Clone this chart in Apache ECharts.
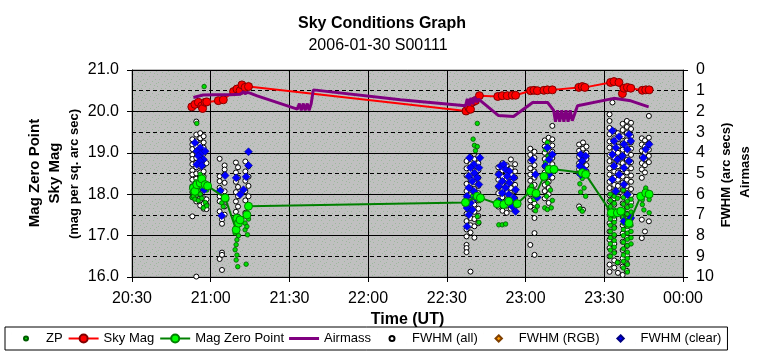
<!DOCTYPE html>
<html><head><meta charset="utf-8">
<script src="https://cdn.jsdelivr.net/npm/echarts@6/dist/echarts.min.js"></script>
<style>html,body{margin:0;padding:0;background:#fff}#c{width:764px;height:357px}</style>
</head><body><div id="c"></div>
<script>
// ---------------- DATA (time = minutes after 00:00 UT of the night) ----------------
const titleText = 'Sky Conditions Graph';
const subtitleText = '2006-01-30 S00111';
const xTimeRange = [1230, 1440];           // 20:30 .. 00:00
const leftRange = [16, 21];                 // mag
const rightRange = [0, 10];                 // FWHM / airmass

const skyMag = [[1252.8,20.11],[1254.0,20.17],[1255.3,20.22],[1256.6,20.13],[1256.9,20.07],[1257.9,20.22],[1258.5,20.23],
 [1262.9,20.26],[1264.8,20.28],[1268.7,20.48],[1270.0,20.54],[1271.2,20.50],[1271.9,20.64],[1273.1,20.58],[1274.4,20.60],
 [1357.3,20.01],[1358.4,20.09],[1359.0,20.05],[1359.7,20.22],[1360.9,20.26],[1362.4,20.38],
 [1369.4,20.36],[1371.1,20.38],[1373.0,20.38],[1374.9,20.39],[1376.2,20.39],
 [1381.9,20.50],[1383.2,20.51],[1384.5,20.50],[1387.0,20.51],[1388.3,20.52],[1390.2,20.52],
 [1400.3,20.58],[1401.6,20.60],[1402.6,20.58],
 [1412.4,20.70],[1413.7,20.72],[1415.6,20.70],[1416.9,20.43],[1417.5,20.56],[1418.8,20.58],[1420.1,20.56],
 [1424.5,20.51],[1425.8,20.52],[1427.1,20.52]];

const magZeroPoint = [[1253.4,18.15],[1254.0,18.07],[1254.7,18.23],[1256.0,18.27],[1256.6,18.37],[1257.9,18.23],[1258.8,18.20],
 [1265.5,17.91],[1269.7,17.14],[1270.0,17.42],[1270.6,17.30],[1271.2,17.38],[1273.8,17.50],[1274.4,17.71],
 [1357.1,17.80],[1361.6,17.95],[1362.8,17.91],
 [1369.2,17.77],[1371.7,17.75],[1373.6,17.83],[1376.8,17.77],
 [1381.9,18.07],[1384.0,18.02],[1387.0,18.43],[1388.9,18.60],[1390.8,18.60],
 [1401.6,18.52],[1402.9,18.48],
 [1412.7,17.55],[1415.0,17.55],[1416.3,17.59],[1419.4,17.30],
 [1423.9,17.95],[1425.8,18.03],[1427.1,18.00]];

const airmass = [[1253.4,1.33],[1257.1,1.21],[1261.7,1.20],[1267.4,1.20],[1271.2,1.17],[1272.5,1.05],[1273.1,1.15],
 [1274.0,1.08],[1275.0,1.12],[1277.7,1.25],[1293.0,1.89],[1293.8,1.62],[1294.5,1.95],[1295.3,1.62],[1296.0,1.95],
 [1296.8,1.62],[1297.5,1.95],[1298.3,1.62],[1299.1,0.96],[1332.3,1.44],[1357.1,1.73],[1357.8,1.40],[1358.5,1.72],
 [1359.2,1.35],[1359.9,1.65],[1360.6,1.30],[1361.3,1.55],[1362.1,1.41],[1369.7,2.20],[1375.4,2.25],[1382.7,1.57],
 [1388.4,1.57],[1390.7,1.95],[1391.4,2.50],[1392.2,1.95],[1393.0,2.50],[1393.8,1.95],[1394.6,2.50],[1395.4,1.95],
 [1396.2,2.50],[1397.0,1.95],[1397.8,2.45],[1399.8,1.73],[1413.6,1.37],[1420.1,1.49],[1426.9,1.78]];

// columns of points: [time, [values at that time]]
const zpColumns = [
 [1253.0,[18.05,17.92]],[1253.4,[18.2,17.95]],[1254.0,[17.88,18.12]],[1254.4,[18.3]],[1254.7,[19.71,18.0]],
 [1255.3,[18.1,17.85]],[1256.0,[18.48,18.0]],[1256.6,[18.15,17.9]],[1257.2,[18.3,17.67]],[1257.5,[20.60]],
 [1257.9,[18.2,17.8]],[1258.5,[18.1,17.72]],
 [1264.2,[17.79]],[1264.8,[17.7]],[1265.2,[17.95]],[1266.1,[17.87]],
 [1269.3,[17.06,16.66]],[1269.7,[17.38,16.78,16.41]],[1270.0,[17.22,16.9,16.53]],[1270.3,[16.25]],[1270.6,[17.0]],
 [1273.1,[17.30,17.14]],[1273.5,[16.31]],[1273.8,[17.22]],[1274.0,[17.02]],[1274.4,[17.4]],
 [1358.4,[17.6]],[1359.7,[17.95]],[1360.0,[19.33]],[1360.5,[19.18]],[1360.9,[19.05,18.0]],
 [1361.6,[19.71,19.15,17.46]],[1362.2,[17.32]],[1362.5,[17.85]],
 [1369.8,[17.26]],[1371.1,[17.26]],[1372.4,[17.28]],[1373.0,[17.79]],[1374.9,[17.83]],[1375.5,[17.9]],[1376.2,[17.71]],
 [1382.3,[18.2]],[1382.6,[18.07]],[1383.2,[17.87]],[1383.8,[17.6]],[1384.5,[17.71]],
 [1387.0,[18.43]],[1387.3,[17.67]],[1387.6,[19.08,18.76]],[1388.0,[17.95]],[1388.3,[19.25,18.27,17.63]],
 [1388.6,[18.92]],[1388.9,[18.6]],[1389.5,[18.1]],[1389.8,[17.67]],[1390.2,[17.85]],
 [1400.3,[18.5]],[1400.7,[18.25,17.65]],[1401.0,[18.05]],[1401.6,[18.38,17.59]],[1402.3,[18.15]],[1402.9,[17.95]],
 [1412.3,[18.0,17.85,17.7,17.55,17.4,17.25,17.1,16.95,16.8,16.65,16.5]],
 [1413.8,[17.95,17.78,17.62,17.47,17.32,17.18,17.02,16.88,16.72,16.58]],
 [1415.0,[18.05,17.9,16.35]],
 [1417.3,[18.1,17.92,17.76,17.6,17.45,17.3,17.15,17.0,16.84,16.68,16.53,16.38,16.22]],
 [1418.8,[18.0,17.83,17.68,17.52,17.37,17.22,17.06,16.91,16.76,16.6,16.45,16.3,16.12]],
 [1420.2,[17.88,17.72,17.57,17.4,17.25,17.1,16.95,16.8]],
 [1424.5,[17.87,17.75]],[1425.1,[17.62]],[1425.8,[18.15]],[1427.1,[17.87,17.55]]];

const fwhmAllColumns = [
 [1253.0,[3.35,3.6,3.82,4.1,4.3,4.55,4.85,5.05,5.3,5.62,5.9,6.15,7.07]],
 [1254.5,[2.49,3.12,3.45,3.7,3.95,4.25,4.48,4.7,5.0,5.25,5.5,5.78,6.05,6.35,9.98]],
 [1256.0,[3.05,3.3,3.6,3.88,4.15,4.42,4.66,4.95,5.2,5.45,5.72,6.0,6.3,6.55]],
 [1257.3,[3.2,3.5,3.75,4.05,4.35,4.6,4.9,5.15,5.4,5.65,6.2,6.45,6.7]],
 [1258.4,[4.5,5.7,6.25,6.5,6.72]],
 [1263.4,[4.29,5.13,5.37,5.69,6.10,6.34,6.83,9.13]],
 [1264.3,[7.23,7.43,8.82,8.93,9.66]],
 [1265.3,[4.61,4.81,5.05,5.45,5.86,6.26,6.59,6.99]],
 [1269.6,[4.47,4.95,5.4,5.9,6.35,6.85]],
 [1270.4,[4.7,5.2,5.65,6.1,6.6,7.09]],
 [1273.2,[4.42,4.9,5.35,5.85,6.3,6.9]],
 [1274.4,[4.65,5.15,5.6,6.1,6.55]],
 [1357.5,[4.4,4.75,5.1,5.5,5.85,6.2,6.6,6.95,7.3,7.7,8.04,8.45,8.6,8.8]],
 [1359.0,[4.2,4.55,4.9,5.3,5.7,6.05,6.4,6.8,7.15,7.5,7.85,9.74]],
 [1360.5,[4.3,4.65,5.0,5.4,5.75,6.15,6.5,6.85,7.2,7.55,8.1]],
 [1362.0,[4.16,4.5,4.85,5.2,5.6,5.95,6.3,6.7,7.05,7.4]],
 [1369.6,[4.7,5.0,5.3,5.65,5.95,6.3,6.6]],
 [1371.2,[4.5,4.85,5.15,5.5,5.8,6.15,6.45,6.8]],
 [1372.8,[4.6,4.95,5.25,5.6,5.9,6.25,6.55,6.9]],
 [1374.4,[4.32,4.75,5.05,5.4,5.7,6.05,6.35,6.7]],
 [1376.0,[4.55,4.9,5.2,5.55,5.85,6.2,6.5]],
 [1381.8,[3.8,4.1,4.4,4.75,5.05,5.35,5.7,6.0,6.3,6.6,8.45]],
 [1383.4,[3.95,4.25,4.6,4.9,5.2,5.55,5.85,6.15,6.45,6.75,7.15,7.88,8.93]],
 [1387.3,[3.4,3.7,4.0,4.3,4.65,4.95,5.25,5.55,5.85,6.2]],
 [1388.8,[3.27,3.55,3.85,4.15,4.5,4.8,5.1,5.4,5.7,6.0,6.42]],
 [1390.2,[2.7,3.35,3.65,3.95,4.25,4.55,4.9,5.2]],
 [1400.4,[3.6,3.9,4.2,4.5,4.8,6.59]],
 [1401.9,[3.5,3.8,4.1,4.4,4.7,4.97,6.75]],
 [1403.2,[3.7,4.0,4.3,4.6,4.9]],
 [1412.0,[2.14,2.46,2.8,3.1,3.45,3.75,4.1,4.4,4.75,5.05,5.4,5.7,6.05,6.35,6.7,7.0,7.4,7.8,8.2,8.6,9.0,9.4,9.75]],
 [1413.1,[1.57]],
 [1413.8,[2.95,3.3,3.6,3.9,4.25,4.55,4.9,5.2,5.55,5.85,6.2,6.5,6.85,7.2,7.6,8.0,8.4,8.8,9.2,9.55]],
 [1415.2,[3.05,3.35,3.7,4.0,4.3,4.65,4.95,5.3,5.6,6.9,9.3,9.8]],
 [1417.0,[2.6,2.9,3.2,3.55,3.85,4.2,4.5,4.8,5.15,5.45,5.8,6.1,6.45,6.8,7.1,7.5,7.9,8.3,8.7,9.1,9.5,9.9]],
 [1418.6,[2.46,2.75,3.05,3.4,3.7,4.0,4.35,4.65,4.95,5.3,5.6,5.95,6.25,6.6,6.95,7.3,7.7,8.1,8.5,8.95,9.35,9.7]],
 [1420.2,[2.55,2.85,3.2,3.5,3.8,4.1,4.45,4.75,5.1,5.4,5.75,6.05,6.4,7.0]],
 [1424.3,[3.3,3.6,3.9,4.2,4.5,4.8,5.21,7.23,8.12]],
 [1425.5,[3.4,3.7,4.0,4.3,4.6,4.95,7.8]],
 [1427.0,[2.22,3.27,3.55,3.85,4.15,4.45,7.31]]];

const fwhmRGB = [];

const fwhmClear = [
 [1254.0,3.51],[1256.0,3.75],[1254.7,3.92],[1256.6,4.0],[1257.9,3.92],[1255.3,4.16],[1257.2,4.32],[1256.0,4.40],
 [1254.7,4.56],[1256.6,4.62],[1257.5,5.78],
 [1263.6,5.83],[1265.5,5.10],[1264.2,7.04],
 [1274.4,3.95],[1274.4,4.61],[1269.7,5.21],[1273.5,5.16],[1272.5,5.78],[1271.2,6.02],
 [1358.7,4.24],[1362.6,4.24],[1360.3,4.56],[1359.0,4.72],[1362.2,4.72],[1360.5,4.97],[1358.4,5.13],[1361.6,5.21],
 [1359.7,5.37],[1362.2,5.53],[1358.4,5.69],[1360.3,5.86],[1357.7,6.10],[1360.9,6.18],[1359.0,6.42],[1357.7,6.67],
 [1359.7,6.75],[1358.4,6.99],[1357.7,7.56],
 [1370.5,4.64],[1371.7,4.56],[1372.4,4.81],[1373.8,4.89],[1369.8,5.05],[1373.0,5.13],[1375.5,5.21],[1371.1,5.37],
 [1373.8,5.45],[1369.8,5.61],[1372.4,5.69],[1376.2,5.78],[1371.1,5.94],[1373.6,6.02],[1375.5,6.18],[1369.8,6.34],
 [1372.4,6.42],[1374.9,6.59],[1376.2,6.83],
 [1382.6,4.35],[1383.8,5.05],[1384.5,6.15],
 [1388.3,3.75],[1390.2,4.08],[1388.9,4.32],[1387.6,4.64],[1390.2,4.81],[1388.9,5.05],
 [1401.0,4.08],[1402.9,4.16],[1401.6,4.40],[1400.7,4.64],[1402.3,4.81],[1401.0,5.05],
 [1413.1,2.94],[1415.6,3.22],[1413.7,3.43],[1419.4,3.11],[1420.1,3.43],[1417.5,3.59],[1414.4,3.75],[1418.8,3.83],
 [1413.1,4.08],[1416.9,4.16],[1415.0,4.32],[1419.4,4.40],[1413.7,4.64],[1417.5,4.72],[1415.6,5.05],[1413.1,5.29],
 [1417.5,5.53],[1414.4,5.86],[1418.8,6.02],[1415.0,6.91],[1420.1,7.15],[1417.5,7.31],
 [1427.1,3.59],[1425.8,3.83],[1424.9,4.24]];

// ---------------- build ----------------
function expand(cols){ const out=[]; cols.forEach(c=>c[1].forEach(v=>out.push([c[0],v]))); return out; }
const zpPoints = expand(zpColumns);
const fwhmAll = expand(fwhmAllColumns);

const FONT = '"Liberation Sans", Arial, Helvetica, sans-serif';
function pad(n){ return (n<10?'0':'')+n; }
function fmtTime(v){ const h=Math.floor(v/60)%24, m=Math.round(v%60); return pad(h)+':'+pad(m); }

// plot-area fill: grey with a fine greenish dot texture
const pc = document.createElement('canvas'); pc.width = 12; pc.height = 12;
const pctx = pc.getContext('2d');
pctx.fillStyle = '#c0c0c0'; pctx.fillRect(0,0,12,12);
pctx.fillStyle = '#9cb89c';
[[1,2],[6,0],[9,4],[3,7],[8,9],[0,11],[11,7],[5,4],[2,10],[10,1]].forEach(p=>pctx.fillRect(p[0],p[1],1,1));

// legend icons: 30x10 frame (tiny corner marks fix the frame) with a small centred shape
const FRAME = 'M0,0L0.01,0M30,10L29.99,10';
const ICON_ZP = 'path://' + FRAME + 'M13,5A2,2,0,1,1,17,5A2,2,0,1,1,13,5Z';
const ICON_WHITE = 'path://' + FRAME + 'M12.5,5A2.5,2.5,0,1,1,17.5,5A2.5,2.5,0,1,1,12.5,5Z';
const ICON_DIAMOND = 'path://' + FRAME + 'M15,1.8L18.2,5L15,8.2L11.8,5Z';
const ICON_BAR = 'path://M0,0L30,0L30,3L0,3Z';

const chart = echarts.init(document.getElementById('c'), null, {renderer:'canvas'});
chart.setOption({
  animation: false,
  backgroundColor: '#ffffff',
  textStyle: { fontFamily: FONT },
  title: [
    { text: titleText, left: 'center', top: 16, padding: 0,
      textStyle: { fontFamily: FONT, fontSize: 16, fontWeight: 'bold', color: '#000' } },
    { text: subtitleText, left: 378, top: 38, padding: 0,
      textAlign: 'center',
      textStyle: { fontFamily: FONT, fontSize: 16, fontWeight: 'normal', color: '#000' } }
  ],
  grid: { left: 132, right: 81, top: 70, bottom: 80, show: true,
    backgroundColor: { image: pc, repeat: 'repeat' }, borderColor: '#808080', borderWidth: 1,
    containLabel: false, outerBoundsMode: 'none' },
  legend: {
    left: 5, top: 327, orient: 'horizontal',
    padding: [5, 6, 5, 5], itemGap: 5, itemWidth: 30, itemHeight: 10,
    borderColor: '#000', borderWidth: 1, backgroundColor: '#fff',
    textStyle: { fontFamily: FONT, fontSize: 13, color: '#000' },
    data: [
      { name: 'ZP', icon: ICON_ZP },
      { name: 'Sky Mag' },
      { name: 'Mag Zero Point' },
      { name: 'Airmass', icon: ICON_BAR },
      { name: 'FWHM (all)', icon: ICON_WHITE },
      { name: 'FWHM (RGB)', icon: ICON_DIAMOND },
      { name: 'FWHM (clear)', icon: ICON_DIAMOND }
    ]
  },
  xAxis: {
    type: 'value', min: xTimeRange[0], max: xTimeRange[1], interval: 30,
    name: 'Time (UT)', nameLocation: 'middle', nameGap: 30,
    nameTextStyle: { fontFamily: FONT, fontSize: 16, fontWeight: 'bold', color: '#000' },
    axisLine: { show: true, onZero: false, lineStyle: { color: '#000', width: 1 } },
    axisTick: { show: true, inside: false, length: 5, lineStyle: { color: '#000' } },
    axisLabel: { formatter: fmtTime, fontSize: 16, color: '#000', margin: 14, fontFamily: FONT,
      showMinLabel: true, showMaxLabel: true },
    splitLine: { show: true, lineStyle: { color: '#000', width: 1, type: 'solid' } }
  },
  yAxis: [
    { type: 'value', min: leftRange[0], max: leftRange[1], interval: 1, position: 'left',
      axisLine: { show: true, onZero: false, lineStyle: { color: '#000' } },
      axisTick: { show: true, inside: false, length: 5, lineStyle: { color: '#000' } },
      axisLabel: { formatter: v => v.toFixed(1), fontSize: 16, color: '#000', margin: 13, fontFamily: FONT,
        showMinLabel: true, showMaxLabel: true },
      splitLine: { show: true, lineStyle: { color: '#000', width: 1, type: 'solid' } } },
    { type: 'value', min: rightRange[0], max: rightRange[1], interval: 1, inverse: true, position: 'right',
      axisLine: { show: true, onZero: false, lineStyle: { color: '#000' } },
      axisTick: { show: true, inside: false, length: 5, lineStyle: { color: '#000' } },
      axisLabel: { fontSize: 16, color: '#000', margin: 13, fontFamily: FONT,
        showMinLabel: true, showMaxLabel: true },
      splitLine: { show: true, lineStyle: { color: '#000', width: 1, type: [4, 3] } } }
  ],
  graphic: [
    { type: 'text', x: 35, y: 173, rotation: Math.PI/2, silent: true,
      style: { text: 'Mag Zero Point', font: 'bold 15px ' + FONT, fill: '#000', textAlign: 'center', textVerticalAlign: 'middle' } },
    { type: 'text', x: 55, y: 173, rotation: Math.PI/2, silent: true,
      style: { text: 'Sky Mag', font: 'bold 15px ' + FONT, fill: '#000', textAlign: 'center', textVerticalAlign: 'middle' } },
    { type: 'text', x: 74, y: 174, rotation: Math.PI/2, silent: true,
      style: { text: '(mag per sq. arc sec)', font: 'bold 13px ' + FONT, fill: '#000', textAlign: 'center', textVerticalAlign: 'middle' } },
    { type: 'text', x: 726, y: 175, rotation: Math.PI/2, silent: true,
      style: { text: 'FWHM (arc secs)', font: 'bold 13px ' + FONT, fill: '#000', textAlign: 'center', textVerticalAlign: 'middle' } },
    { type: 'text', x: 745, y: 172, rotation: Math.PI/2, silent: true,
      style: { text: 'Airmass', font: 'bold 13px ' + FONT, fill: '#000', textAlign: 'center', textVerticalAlign: 'middle' } }
  ],
  series: [
    { name: 'ZP', type: 'scatter', yAxisIndex: 0, data: zpPoints, symbol: 'circle', symbolSize: 4.5, z: 3,
      itemStyle: { color: '#00dd00', borderColor: '#005a00', borderWidth: 0.8, opacity: 1 } },
    { name: 'Sky Mag', type: 'line', yAxisIndex: 0, data: skyMag, symbol: 'circle', symbolSize: 8, z: 5,
      showSymbol: true, showAllSymbol: true,
      itemStyle: { color: '#ff0000', borderColor: '#800000', borderWidth: 1 },
      lineStyle: { color: '#ff0000', width: 2 } },
    { name: 'Mag Zero Point', type: 'line', yAxisIndex: 0, data: magZeroPoint, symbol: 'circle', symbolSize: 8, z: 7,
      showSymbol: true, showAllSymbol: true,
      itemStyle: { color: '#00ff00', borderColor: '#008000', borderWidth: 1 },
      lineStyle: { color: '#008000', width: 2 } },
    { name: 'Airmass', type: 'line', yAxisIndex: 1, data: airmass, symbol: 'none', z: 6,
      itemStyle: { color: '#800080' },
      lineStyle: { color: '#800080', width: 3 } },
    { name: 'FWHM (all)', type: 'scatter', yAxisIndex: 1, data: fwhmAll, symbol: 'circle', symbolSize: 5, z: 2,
      itemStyle: { color: '#ffffff', borderColor: '#000000', borderWidth: 1, opacity: 1 } },
    { name: 'FWHM (RGB)', type: 'scatter', yAxisIndex: 1, data: fwhmRGB, symbol: 'diamond', symbolSize: 8, z: 4,
      itemStyle: { color: '#ff9900', borderColor: '#804000', borderWidth: 0.5, opacity: 1 } },
    { name: 'FWHM (clear)', type: 'scatter', yAxisIndex: 1, data: fwhmClear, symbol: 'diamond', symbolSize: 8, z: 4,
      itemStyle: { color: '#0000ff', borderColor: '#000080', borderWidth: 0.5, opacity: 1 } }
  ]
});
</script></body></html>
